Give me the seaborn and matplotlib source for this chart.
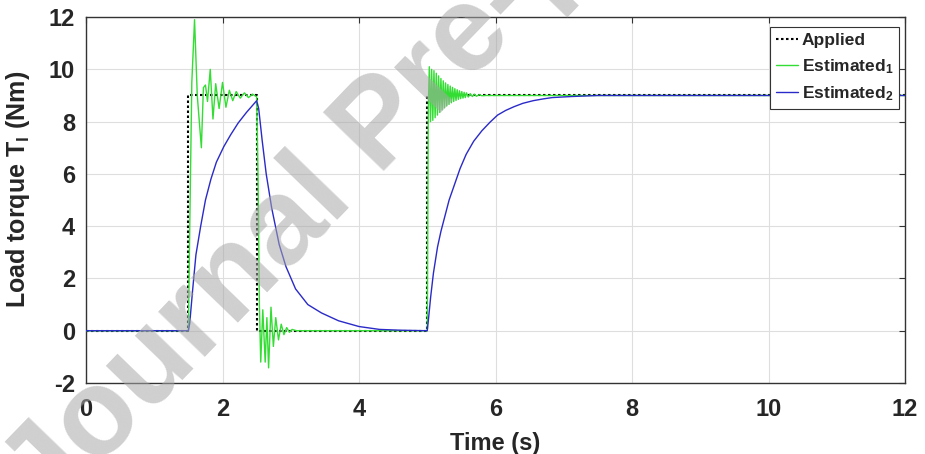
import numpy as np
import pandas as pd
import matplotlib
matplotlib.use('Agg')
import matplotlib.pyplot as plt
import seaborn as sns

# 데이터
t_applied = [0, 1.5, 1.5, 2.5, 2.5, 5.0, 5.0, 12]
applied = [0, 0, 9, 9, 0, 0, 9, 9]

t_est1 = [0, 1.50, 1.52, 1.55, 1.59, 1.63, 1.69, 1.72, 1.75, 1.78, 1.82, 1.86,
          1.90, 1.95, 2.00, 2.05, 2.10, 2.15, 2.20, 2.26, 2.32, 2.38, 2.44, 2.50,
          2.52, 2.54, 2.56, 2.59, 2.625, 2.65, 2.675, 2.71, 2.745, 2.78, 2.82,
          2.86, 2.90, 2.94, 2.98, 3.02, 3.08, 5.00, 5.015, 5.03, 5.047, 5.064,
          5.081, 5.098, 5.115, 5.132, 5.149, 5.166, 5.183, 5.20, 5.217, 5.234,
          5.251, 5.268, 5.285, 5.302, 5.319, 5.336, 5.353, 5.37, 5.387, 5.404,
          5.421, 5.438, 5.455, 5.472, 5.489, 5.506, 5.523, 5.54, 5.557, 5.574,
          5.60, 5.63, 5.66, 5.69, 5.72, 5.76, 5.80, 5.85, 12]
est1 = [0, 0, 4.0, 9.5, 11.9, 9.0, 7.0, 9.3, 9.4, 8.77, 10.0, 8.1,
        9.45, 8.5, 9.5, 8.55, 9.2, 8.8, 9.15, 8.9, 9.1, 8.92, 9.05, 8.95,
        6.0, 1.0, -1.2, 0.8, -1.2, 0.5, -1.42, 0.9, -0.6, 0.5, -0.35,
        0.25, -0.15, 0.12, -0.06, 0.05, 0.0, 0.0, 8.5, 10.1, 8.0, 10.0,
        8.05, 9.95, 8.15, 9.85, 8.25, 9.75, 8.35, 9.65, 8.45, 9.56,
        8.53, 9.48, 8.6, 9.42, 8.66, 9.36, 8.72, 9.31, 8.77, 9.26,
        8.81, 9.22, 8.85, 9.18, 8.88, 9.15, 8.9, 9.12, 8.92, 9.1,
        8.94, 9.07, 8.96, 9.05, 8.97, 9.03, 8.99, 9.0, 9.0]

t_est2 = [0, 1.50, 1.52, 1.56, 1.61, 1.68, 1.75, 1.83, 1.91, 2.02, 2.12, 2.23,
          2.35, 2.45, 2.50, 2.53, 2.58, 2.64, 2.72, 2.83, 2.93, 3.07, 3.25,
          3.45, 3.70, 4.00, 4.30, 4.60, 5.00, 5.02, 5.05, 5.09, 5.15, 5.20,
          5.25, 5.32, 5.40, 5.48, 5.57, 5.68, 5.80, 5.92, 6.03, 6.15, 6.27,
          6.40, 6.55, 6.70, 6.83, 7.11, 7.50, 12]
est2 = [0, 0, 0.3, 1.5, 2.9, 4.0, 5.0, 5.8, 6.45, 7.05, 7.5, 7.95,
        8.35, 8.65, 8.8, 8.5, 7.3, 6.0, 4.7, 3.3, 2.45, 1.6, 1.0,
        0.68, 0.38, 0.16, 0.05, 0.02, 0.0, 0.5, 1.3, 2.2, 3.2, 3.8,
        4.3, 5.0, 5.6, 6.2, 6.75, 7.25, 7.65, 7.98, 8.25, 8.43, 8.57,
        8.7, 8.8, 8.87, 8.92, 8.96, 9.0, 9.0]

x_ticks = [0, 2, 4, 6, 8, 10, 12]
y_ticks = [-2, 0, 2, 4, 6, 8, 10, 12]

# 스타일
sns.set_style('white')
plt.rcParams['font.family'] = ['Liberation Sans', 'DejaVu Sans']
plt.rcParams['font.weight'] = 'bold'
plt.rcParams['axes.unicode_minus'] = False
plt.rcParams['mathtext.fontset'] = 'custom'
plt.rcParams['mathtext.rm'] = 'Liberation Sans:bold'
plt.rcParams['mathtext.bf'] = 'Liberation Sans:bold'
plt.rcParams['mathtext.it'] = 'Liberation Sans:bold'
plt.rcParams['mathtext.default'] = 'bf'

fig = plt.figure(figsize=(9.25, 4.54), dpi=100)
ax = fig.add_axes([0.093, 0.1564, 0.8854, 0.806])

sns.lineplot(x=t_applied, y=applied, ax=ax, color='black', lw=1.5,
             linestyle=(0, (1.2, 1.2)), estimator=None, sort=False,
             label='Applied', zorder=2)
sns.lineplot(x=t_est1, y=est1, ax=ax, color='#33dd33', lw=1.0,
             estimator=None, sort=False, label='Estimated$_1$', zorder=3)
sns.lineplot(x=t_est2, y=est2, ax=ax, color='#2a2ac8', lw=1.0,
             estimator=None, sort=False, label='Estimated$_2$', zorder=4)

ax.set_xlim(0, 12)
ax.set_ylim(-2, 12)
ax.set_xticks(x_ticks)
ax.set_yticks(y_ticks)
ax.grid(True, color='#dedede', lw=0.8)
ax.set_axisbelow(True)
ax.tick_params(direction='in', top=True, right=True, length=4,
               color='#333333', labelsize=17)
ax.tick_params(axis='x', pad=11)
ax.tick_params(axis='y', pad=8)
for lab in ax.get_xticklabels() + ax.get_yticklabels():
    lab.set_fontweight('bold')
for s in ax.spines.values():
    s.set_color('#333333')
    s.set_linewidth(1.0)

ax.set_xlabel('Time (s)', fontsize=17, fontweight='bold')
ax.set_ylabel('Load torque T$_l$ (Nm)', fontsize=18, fontweight='bold')
ax.xaxis.set_label_coords(0.5, -0.135)
ax.yaxis.set_label_coords(-0.066, 0.53)

leg = ax.legend(loc='upper right', bbox_to_anchor=(0.993, 0.973), fontsize=12.5,
                handlelength=1.3, handletextpad=0.2, borderaxespad=0,
                borderpad=0.35, labelspacing=0.5, fancybox=False,
                framealpha=1, edgecolor='#333333')
leg.get_frame().set_linewidth(0.8)
for t in leg.get_texts():
    t.set_fontweight('bold')

# 워터마크
fig.text(0.413, 0.718, 'Journal Pre-proof', fontsize=88, rotation=46,
         rotation_mode='anchor', ha='center', va='center',
         color='#a8a8a8', alpha=0.55, fontweight='bold',
         family='Liberation Sans', zorder=10)

plt.savefig('out.png', dpi=100)
